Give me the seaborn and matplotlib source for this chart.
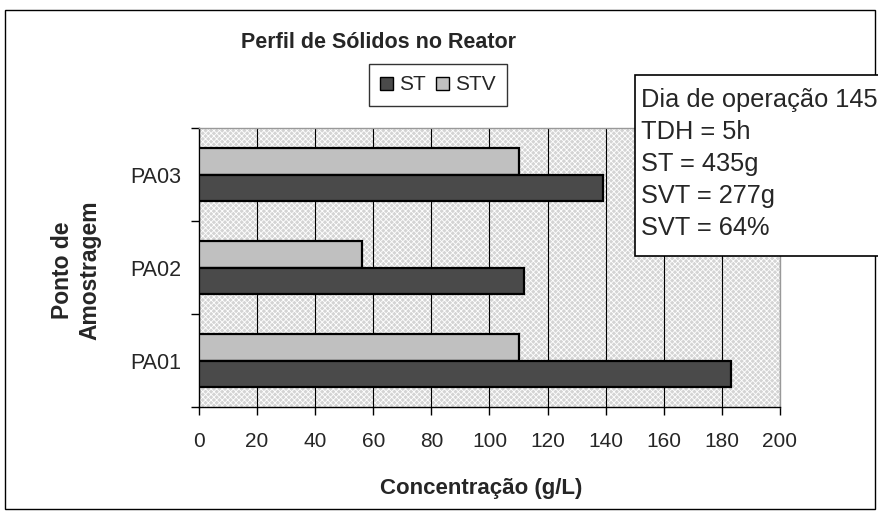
import matplotlib
matplotlib.use("Agg")
import matplotlib.pyplot as plt
from matplotlib import font_manager
from matplotlib.patches import Rectangle, Patch
import pandas as pd
import seaborn as sns

# Dados do perfil de sólidos
pontos = ["PA03", "PA02", "PA01"]
st_valores = [139, 112, 183]
stv_valores = [110, 56, 110]
series = ["ST", "STV"]
xticks = [0, 20, 40, 60, 80, 100, 120, 140, 160, 180, 200]
info_linhas = ["Dia de operação 145", "TDH = 5h", "ST = 435g", "SVT = 277g", "SVT = 64%"]

df = pd.DataFrame({
    "Ponto": pontos * 2,
    "Valor": st_valores + stv_valores,
    "Serie": ["ST"] * len(pontos) + ["STV"] * len(pontos),
})

sns.set_theme(style="white")
plt.rcParams["font.family"] = ["Liberation Sans", "DejaVu Sans"]
plt.rcParams["hatch.linewidth"] = 0.6

familias = {f.name for f in font_manager.fontManager.ttflist}
tem_narrow = "Liberation Sans Narrow" in familias

W, H = 879, 511
fig = plt.figure(figsize=(W / 100, H / 100), dpi=100)
ax = fig.add_axes([199 / W, 1 - 407 / H, (780 - 199) / W, (407 - 128) / H])

cores = {"ST": "#4a4a4a", "STV": "#c0c0c0"}

# fundo quadriculado da área de plotagem
ax.set_facecolor("#d4d4d4")
ax.add_patch(Rectangle((0, 0), 1, 1, transform=ax.transAxes, facecolor="none",
                       edgecolor="white", hatch="xxxxxx", linewidth=0, zorder=0.5))

sns.barplot(data=df, y="Ponto", x="Valor", hue="Serie", order=pontos,
            hue_order=["STV", "ST"], palette=cores, width=0.56, gap=0,
            edgecolor="black", linewidth=1.6, orient="h", ax=ax,
            legend=False, zorder=3)

ax.set_xlim(0, 200)
ax.set_ylim(2.5, -0.5)
ax.set_xticks(xticks)
ax.set_xticklabels([str(v) for v in xticks], fontsize=15)
ax.xaxis.grid(True, color="black", linewidth=0.8, zorder=1)
ax.yaxis.grid(False)
ax.set_axisbelow(True)

ax.tick_params(axis="x", which="major", direction="out", length=6, width=1,
               color="black", bottom=True, pad=12)
ax.tick_params(axis="y", which="major", length=0, pad=13, labelsize=15.5)
ax.set_yticks([-0.5, 0.5, 1.5, 2.5], minor=True)
ax.tick_params(axis="y", which="minor", direction="out", length=6, width=1,
               color="black", left=True)

for lado in ["top", "right"]:
    ax.spines[lado].set_color("#999999")
    ax.spines[lado].set_linewidth(1)
for lado in ["left", "bottom"]:
    ax.spines[lado].set_color("black")
    ax.spines[lado].set_linewidth(1)

ax.set_xlabel("Concentração (g/L)", fontsize=16, fontweight="bold")
ax.xaxis.set_label_coords((481 - 199) / 581, (407 - 478) / 279)
ax.set_ylabel("Ponto de\nAmostragem", fontsize=16.5, fontweight="bold", linespacing=1.2)
ax.yaxis.set_label_coords((101 - 199) / 581, (407 - 270) / 279)

if tem_narrow:
    fig.text(379 / W, 1 - 42 / H, "Perfil de Sólidos no Reator", fontsize=19.5,
             fontweight="bold", family=["Liberation Sans Narrow", "Liberation Sans"],
             ha="center", va="center")
else:
    fig.text(379 / W, 1 - 42 / H, "Perfil de Sólidos no Reator", fontsize=15.5,
             fontweight="bold", ha="center", va="center")

# legenda
handles = [Patch(facecolor=cores[s], edgecolor="black", linewidth=1) for s in series]
leg = fig.legend(handles, series, ncol=2, loc="center", bbox_to_anchor=(438 / W, 1 - 85 / H),
                 fontsize=15, frameon=True, fancybox=False, edgecolor="black",
                 handlelength=0.6, handleheight=0.6, handletextpad=0.3,
                 columnspacing=0.5, borderpad=0.55)
leg.get_frame().set_linewidth(1)

# caixa de informações
fig.patches.append(Rectangle((635 / W, 1 - 256 / H), 300 / W, (256 - 75) / H,
                             transform=fig.transFigure, facecolor="white",
                             edgecolor="black", linewidth=1.2, zorder=5))
for i, linha in enumerate(info_linhas):
    fig.text(641 / W, 1 - (100 + i * 32) / H, linha, fontsize=18.3,
             ha="left", va="center", zorder=6)

# moldura externa
fig.patches.append(Rectangle((5 / W, 1 - 509 / H), 870 / W, 499 / H,
                             transform=fig.transFigure, facecolor="none",
                             edgecolor="black", linewidth=1, zorder=0))

fig.savefig("out.png", dpi=100)
